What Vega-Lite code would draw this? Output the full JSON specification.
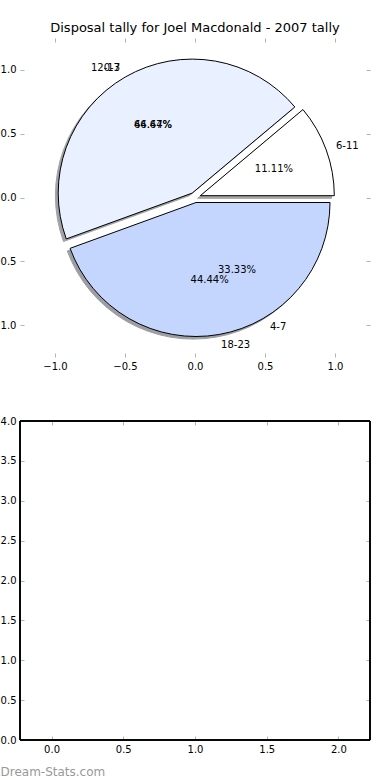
{
  "$schema": "https://vega.github.io/schema/vega-lite/v6.json",
  "autosize": {"type": "none"},
  "padding": {"left": 20, "top": 38, "right": 20, "bottom": 40},
  "width": 350,
  "height": 702,
  "background": "white",
  "title": {"text": "Disposal tally for Joel Macdonald - 2007 tally", "font": "DejaVu Sans", "fontSize": 13, "fontWeight": "normal", "color": "#000000", "anchor": "middle", "baseline": "alphabetic", "offset": -7},
  "config": {
    "font": "DejaVu Sans",
    "view": {"stroke": null},
    "axis": {
      "labelFont": "DejaVu Sans", "labelFontSize": 10, "labelColor": "#000000",
      "tickColor": "#b3b3b3", "tickSize": 4, "tickWidth": 1,
      "domain": false, "grid": false, "offset": -4, "labelPadding": 4,
      "labelFlush": false, "labelOverlap": false
    },
    "text": {"font": "DejaVu Sans", "fontSize": 10, "color": "#000000"}
  },
  "datasets": {
    "slices": [
      {"pie": "B", "order": 1, "label": "6-11", "count": 1, "pct": "11.11%"},
      {"pie": "B", "order": 2, "label": "12-17", "count": 4, "pct": "44.44%"},
      {"pie": "B", "order": 3, "label": "18-23", "count": 4, "pct": "44.44%"},
      {"pie": "A", "order": 1, "label": "0-3", "count": 2, "pct": "66.67%"},
      {"pie": "A", "order": 2, "label": "4-7", "count": 1, "pct": "33.33%"}
    ]
  },
  "data": {"name": "slices"},
  "layer": [
    {
      "layer": [
        {
          "mark": {"type": "point", "opacity": 0},
          "encoding": {
            "x": {"datum": 0, "type": "quantitative", "scale": {"domain": [-1.25, 1.25], "range": [0, 350], "nice": false, "zero": false}, "axis": {"orient": "bottom", "offset": -387, "values": [-1, -0.5, 0, 0.5, 1], "format": ".1f", "title": null}},
            "y": {"datum": 0, "type": "quantitative", "scale": {"domain": [-1.25, 1.25], "range": [319, 0], "nice": false, "zero": false}, "axis": {"orient": "left", "values": [-1, -0.5, 0, 0.5, 1], "format": ".1f", "title": null}}
          }
        },
        {
          "mark": {"type": "point", "opacity": 0},
          "encoding": {
            "x": {"datum": 0, "type": "quantitative", "axis": {"orient": "top", "values": [-1, -0.5, 0, 0.5, 1], "labels": false, "title": null}},
            "y": {"datum": 0, "type": "quantitative", "axis": {"orient": "right", "values": [-1, -0.5, 0, 0.5, 1], "labels": false, "title": null}}
          }
        },
        {
          "transform": [{"filter": "datum.pie == 'B'"}, {"stack": "count", "groupby": ["pie"], "sort": [{"field": "order", "order": "ascending"}], "offset": "normalize", "as": ["s", "e"]}, {"filter": "datum.label == '6-11'"}],
          "mark": {"type": "arc", "radius": 134, "fill": "#4d4d4d", "stroke": "#4d4d4d", "strokeWidth": 1, "opacity": 0.5, "xOffset": 2.5, "yOffset": 0.8},
          "encoding": {
            "x": {"datum": 0, "type": "quantitative", "axis": null}, "y": {"datum": 0, "type": "quantitative", "axis": null},
            "theta": {"field": "s", "type": "quantitative", "scale": {"domain": [0, 1], "range": [1.5708, -4.7124]}}, "theta2": {"field": "e"}
          }
        },
        {
          "transform": [{"filter": "datum.pie == 'B'"}, {"stack": "count", "groupby": ["pie"], "sort": [{"field": "order", "order": "ascending"}], "offset": "normalize", "as": ["s", "e"]}, {"filter": "datum.label == '12-17'"}],
          "mark": {"type": "arc", "radius": 134, "fill": "#46484d", "stroke": "#46484d", "strokeWidth": 1, "opacity": 0.5, "xOffset": -5.6, "yOffset": -1.8},
          "encoding": {
            "x": {"datum": 0, "type": "quantitative", "axis": null}, "y": {"datum": 0, "type": "quantitative", "axis": null},
            "theta": {"field": "s", "type": "quantitative", "scale": {"domain": [0, 1], "range": [1.5708, -4.7124]}}, "theta2": {"field": "e"}
          }
        },
        {
          "transform": [{"filter": "datum.pie == 'B'"}, {"stack": "count", "groupby": ["pie"], "sort": [{"field": "order", "order": "ascending"}], "offset": "normalize", "as": ["s", "e"]}, {"filter": "datum.label == '18-23'"}],
          "mark": {"type": "arc", "radius": 134, "fill": "#3b404c", "stroke": "#3b404c", "strokeWidth": 1, "opacity": 0.5, "xOffset": -1.8, "yOffset": 7.6},
          "encoding": {
            "x": {"datum": 0, "type": "quantitative", "axis": null}, "y": {"datum": 0, "type": "quantitative", "axis": null},
            "theta": {"field": "s", "type": "quantitative", "scale": {"domain": [0, 1], "range": [1.5708, -4.7124]}}, "theta2": {"field": "e"}
          }
        },
        {
          "transform": [{"filter": "datum.pie == 'B'"}, {"stack": "count", "groupby": ["pie"], "sort": [{"field": "order", "order": "ascending"}], "offset": "normalize", "as": ["s", "e"]}, {"filter": "datum.label == '6-11'"}],
          "mark": {"type": "arc", "radius": 134, "fill": "#ffffff", "stroke": "#000000", "strokeWidth": 1, "xOffset": 5.3, "yOffset": -1.8},
          "encoding": {
            "x": {"datum": 0, "type": "quantitative", "axis": null}, "y": {"datum": 0, "type": "quantitative", "axis": null},
            "theta": {"field": "s", "type": "quantitative", "scale": {"domain": [0, 1], "range": [1.5708, -4.7124]}}, "theta2": {"field": "e"}
          }
        },
        {
          "transform": [{"filter": "datum.pie == 'B'"}, {"stack": "count", "groupby": ["pie"], "sort": [{"field": "order", "order": "ascending"}], "offset": "normalize", "as": ["s", "e"]}, {"filter": "datum.label == '12-17'"}],
          "mark": {"type": "arc", "radius": 134, "fill": "#e9f0ff", "stroke": "#000000", "strokeWidth": 1, "xOffset": -2.8, "yOffset": -4.4},
          "encoding": {
            "x": {"datum": 0, "type": "quantitative", "axis": null}, "y": {"datum": 0, "type": "quantitative", "axis": null},
            "theta": {"field": "s", "type": "quantitative", "scale": {"domain": [0, 1], "range": [1.5708, -4.7124]}}, "theta2": {"field": "e"}
          }
        },
        {
          "transform": [{"filter": "datum.pie == 'B'"}, {"stack": "count", "groupby": ["pie"], "sort": [{"field": "order", "order": "ascending"}], "offset": "normalize", "as": ["s", "e"]}, {"filter": "datum.label == '18-23'"}],
          "mark": {"type": "arc", "radius": 134, "fill": "#c4d6fe", "stroke": "#000000", "strokeWidth": 1, "xOffset": 1.0, "yOffset": 5.0},
          "encoding": {
            "x": {"datum": 0, "type": "quantitative", "axis": null}, "y": {"datum": 0, "type": "quantitative", "axis": null},
            "theta": {"field": "s", "type": "quantitative", "scale": {"domain": [0, 1], "range": [1.5708, -4.7124]}}, "theta2": {"field": "e"}
          }
        },
        {
          "transform": [{"filter": "datum.pie == 'B'"}],
          "mark": {"type": "text", "radius": 84, "align": "center", "baseline": "middle", "fontSize": 10},
          "encoding": {
            "x": {"datum": 0, "type": "quantitative", "axis": null}, "y": {"datum": 0, "type": "quantitative", "axis": null},
            "theta": {"field": "count", "type": "quantitative", "stack": "normalize", "scale": {"domain": [0, 1], "range": [1.5708, -4.7124]}},
            "order": {"field": "order", "type": "quantitative"},
            "text": {"field": "pct"}
          }
        },
        {
          "transform": [{"filter": "datum.pie == 'A'"}],
          "mark": {"type": "text", "radius": 84, "align": "center", "baseline": "middle", "fontSize": 10},
          "encoding": {
            "x": {"datum": 0, "type": "quantitative", "axis": null}, "y": {"datum": 0, "type": "quantitative", "axis": null},
            "theta": {"field": "count", "type": "quantitative", "stack": "normalize", "scale": {"domain": [0, 1], "range": [1.5708, -4.7124]}},
            "order": {"field": "order", "type": "quantitative"},
            "text": {"field": "pct"}
          }
        },
        {
          "transform": [{"filter": "datum.pie == 'B'"}],
          "mark": {"type": "text", "radius": 150, "align": "left", "baseline": "middle", "fontSize": 10},
          "encoding": {
            "x": {"datum": 0, "type": "quantitative", "axis": null}, "y": {"datum": 0, "type": "quantitative", "axis": null},
            "theta": {"field": "count", "type": "quantitative", "stack": "normalize", "scale": {"domain": [0, 1], "range": [1.5708, -4.7124]}},
            "order": {"field": "order", "type": "quantitative"},
            "text": {"field": "label"},
            "opacity": {"condition": {"test": "cos(PI*(datum.count_start+datum.count_end)) > 0", "value": 1}, "value": 0}
          }
        },
        {
          "transform": [{"filter": "datum.pie == 'B'"}],
          "mark": {"type": "text", "radius": 150, "align": "right", "baseline": "middle", "fontSize": 10},
          "encoding": {
            "x": {"datum": 0, "type": "quantitative", "axis": null}, "y": {"datum": 0, "type": "quantitative", "axis": null},
            "theta": {"field": "count", "type": "quantitative", "stack": "normalize", "scale": {"domain": [0, 1], "range": [1.5708, -4.7124]}},
            "order": {"field": "order", "type": "quantitative"},
            "text": {"field": "label"},
            "opacity": {"condition": {"test": "cos(PI*(datum.count_start+datum.count_end)) <= 0", "value": 1}, "value": 0}
          }
        },
        {
          "transform": [{"filter": "datum.pie == 'A'"}],
          "mark": {"type": "text", "radius": 150, "align": "left", "baseline": "middle", "fontSize": 10},
          "encoding": {
            "x": {"datum": 0, "type": "quantitative", "axis": null}, "y": {"datum": 0, "type": "quantitative", "axis": null},
            "theta": {"field": "count", "type": "quantitative", "stack": "normalize", "scale": {"domain": [0, 1], "range": [1.5708, -4.7124]}},
            "order": {"field": "order", "type": "quantitative"},
            "text": {"field": "label"},
            "opacity": {"condition": {"test": "cos(PI*(datum.count_start+datum.count_end)) > 0", "value": 1}, "value": 0}
          }
        },
        {
          "transform": [{"filter": "datum.pie == 'A'"}],
          "mark": {"type": "text", "radius": 150, "align": "right", "baseline": "middle", "fontSize": 10},
          "encoding": {
            "x": {"datum": 0, "type": "quantitative", "axis": null}, "y": {"datum": 0, "type": "quantitative", "axis": null},
            "theta": {"field": "count", "type": "quantitative", "stack": "normalize", "scale": {"domain": [0, 1], "range": [1.5708, -4.7124]}},
            "order": {"field": "order", "type": "quantitative"},
            "text": {"field": "label"},
            "opacity": {"condition": {"test": "cos(PI*(datum.count_start+datum.count_end)) <= 0", "value": 1}, "value": 0}
          }
        }
      ],
      "resolve": {"axis": {"x": "independent", "y": "independent"}}
    },
    {
      "layer": [
        {
          "mark": {"type": "point", "opacity": 0},
          "encoding": {
            "x": {"datum": 0, "type": "quantitative", "scale": {"domain": [-0.22, 2.22], "range": [0, 350], "nice": false, "zero": false}, "axis": {"orient": "bottom", "values": [0, 0.5, 1, 1.5, 2], "format": ".1f", "title": "Dream-Stats.com", "titleX": -20, "titleY": 39, "titleAlign": "left", "titleAnchor": "start", "titleBaseline": "alphabetic", "titleColor": "#999999", "titleFont": "DejaVu Sans", "titleFontSize": 12, "titleFontWeight": "normal"}},
            "y": {"datum": 0, "type": "quantitative", "scale": {"domain": [0, 4], "range": [702, 383], "nice": false, "zero": false}, "axis": {"orient": "left", "values": [0, 0.5, 1, 1.5, 2, 2.5, 3, 3.5, 4], "format": ".1f", "title": null}}
          }
        },
        {
          "mark": {"type": "point", "opacity": 0},
          "encoding": {
            "x": {"datum": 0, "type": "quantitative", "axis": {"orient": "top", "offset": -387, "values": [0, 0.5, 1, 1.5, 2], "labels": false, "title": null}},
            "y": {"datum": 0, "type": "quantitative", "axis": {"orient": "right", "values": [0, 0.5, 1, 1.5, 2, 2.5, 3, 3.5, 4], "labels": false, "title": null}}
          }
        },
        {
          "mark": {"type": "rect", "fill": null, "fillOpacity": 0, "stroke": "#000000", "strokeWidth": 1},
          "encoding": {
            "x": {"datum": -0.22, "type": "quantitative", "axis": null},
            "x2": {"datum": 2.22},
            "y": {"datum": 0, "type": "quantitative", "axis": null},
            "y2": {"datum": 4}
          }
        }
      ],
      "resolve": {"axis": {"x": "independent", "y": "independent"}}
    }
  ],
  "resolve": {"scale": {"x": "independent", "y": "independent"}, "axis": {"x": "independent", "y": "independent"}}
}
